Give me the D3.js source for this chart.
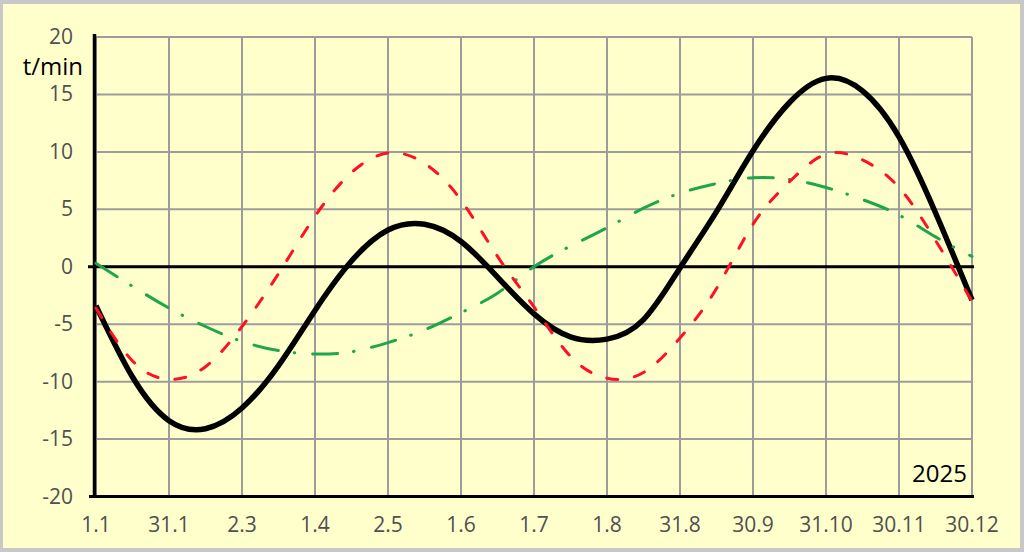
<!DOCTYPE html>
<html>
<head>
<meta charset="utf-8">
<script src="https://cdn.jsdelivr.net/npm/d3@7"></script>
<style>
  html, body { margin: 0; padding: 0; background: #c8c8c8; }
  svg { display: block; }
</style>
</head>
<body>
<svg id="chart" width="1024" height="552"></svg>
<script>
// ---- data ----
const monthTickLabels = ["1.1","31.1","2.3","1.4","2.5","1.6","1.7","1.8","31.8","30.9","31.10","30.11","30.12"];
const monthTickPos = [0,1,2,3,4,5,6,7,8,9,10,11,12];
const yTicks = [20,15,10,5,0,-5,-10,-15,-20];
const samplePos = [0,0.5,1,1.5,2,2.5,3,3.5,4,4.5,5,5.5,6,6.5,7,7.5,8,8.5,9,9.5,10,10.5,11,11.5,12];
const totalValues = [-3.4,-9.6,-13.4,-14.1,-12.3,-8.6,-3.8,0.5,3.2,3.7,2.2,-0.9,-4.1,-6.1,-6.3,-4.6,-0.1,4.8,10.1,14.3,16.4,15.3,11.3,4.7,-2.9];
const obliquityValues = [-3.6,-8.2,-9.8,-8.7,-5.2,-0.6,4.4,8.2,9.9,9.0,5.8,0.9,-3.5,-7.8,-9.7,-9.2,-6.2,-1.9,3.7,7.4,9.8,9.3,6.9,2.3,-3.0];
const eccentricityValues = [0.3,-1.7,-3.6,-5.2,-6.5,-7.3,-7.6,-7.4,-6.6,-5.5,-4.0,-2.3,0.0,1.8,3.4,5.1,6.4,7.25,7.75,7.6,6.9,5.85,4.5,2.6,0.9];
const yUnit = "t/min";
const yearLabel = "2025";

// ---- drawing ----
const svg = d3.select("#chart");
const FONT = "'Open Sans', 'Noto Sans', 'Liberation Sans', sans-serif";

svg.append("rect").attr("x", 3).attr("y", 4).attr("width", 1017).attr("height", 544).attr("fill", "#ffffcc");

const x = d3.scaleLinear().domain([0, 12]).range([96, 972]);
const y = d3.scaleLinear().domain([-20, 20]).range([496.5, 37]);

const grid = svg.append("g").attr("stroke", "#9c9c9c").attr("stroke-width", 2);
grid.selectAll("line.v").data(monthTickPos).join("line")
  .attr("x1", d => x(d)).attr("x2", d => x(d))
  .attr("y1", y(20)).attr("y2", y(-20));
grid.selectAll("line.h").data(yTicks).join("line")
  .attr("x1", x(0)).attr("x2", x(12))
  .attr("y1", d => y(d)).attr("y2", d => y(d));

// zero line
svg.append("line").attr("x1", 88).attr("x2", 974).attr("y1", y(0)).attr("y2", y(0))
  .attr("stroke", "#000").attr("stroke-width", 3);
// axes lines
svg.append("line").attr("x1", 94.5).attr("x2", 94.5).attr("y1", 34).attr("y2", 498)
  .attr("stroke", "#000").attr("stroke-width", 3.5);
svg.append("line").attr("x1", 89).attr("x2", 974).attr("y1", y(-20)).attr("y2", y(-20))
  .attr("stroke", "#000").attr("stroke-width", 3);

// y tick labels
svg.append("g").selectAll("text").data(yTicks).join("text")
  .attr("x", 73).attr("y", d => y(d) + 7)
  .attr("text-anchor", "end")
  .attr("font-family", FONT).attr("font-size", 21).attr("fill", "#505050")
  .text(d => d);

// x tick labels
svg.append("g").selectAll("text").data(monthTickPos).join("text")
  .attr("x", d => x(d)).attr("y", 532)
  .attr("text-anchor", "middle")
  .attr("font-family", FONT).attr("font-size", 21).attr("fill", "#505050")
  .text((d, i) => monthTickLabels[i]);

svg.append("text").attr("x", 83).attr("y", 75).attr("text-anchor", "end")
  .attr("font-family", FONT).attr("font-size", 24).attr("fill", "#000").text(yUnit);
svg.append("text").attr("x", 967).attr("y", 482).attr("text-anchor", "end")
  .attr("font-family", FONT).attr("font-size", 24).attr("fill", "#000").text(yearLabel);

const line = vals => d3.line()
  .x((d, i) => x(samplePos[i]))
  .y(d => y(d))
  .curve(d3.curveNatural)(vals);

svg.append("path").attr("d", line(totalValues))
  .attr("fill", "none").attr("stroke", "#000").attr("stroke-width", 5.5);

svg.append("path").attr("d", line(eccentricityValues))
  .attr("fill", "none").attr("stroke", "#1ea64c").attr("stroke-width", 3)
  .attr("stroke-linecap", "round").attr("stroke-dasharray", "25,16,0.5,18");

svg.append("path").attr("d", line(obliquityValues))
  .attr("fill", "none").attr("stroke", "#ff1024").attr("stroke-width", 3)
  .attr("stroke-linecap", "round").attr("stroke-dasharray", "11,17");
</script>
</body>
</html>
